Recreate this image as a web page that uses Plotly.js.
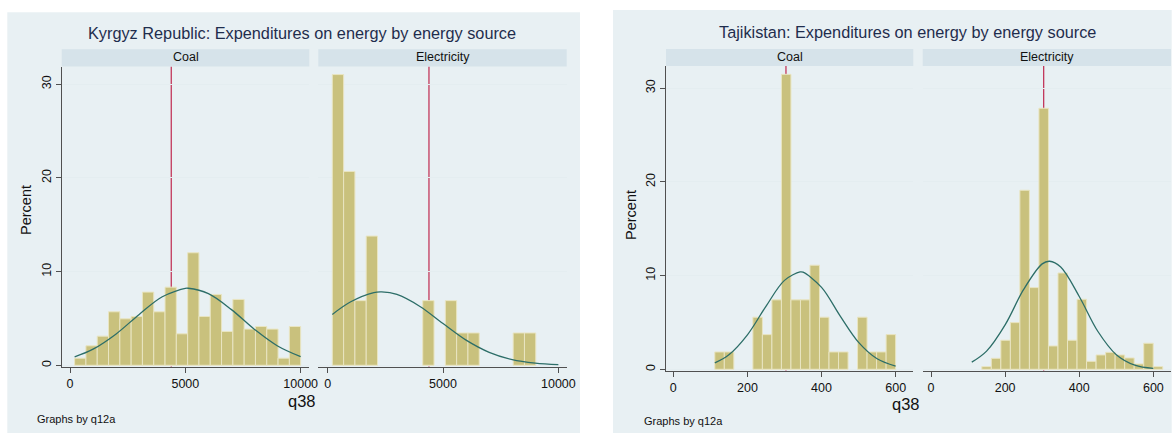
<!DOCTYPE html>
<html>
<head>
<meta charset="utf-8">
<script src="https://cdn.plot.ly/plotly-3.0.1.min.js"></script>
<style>html,body{margin:0;padding:0;background:#fff;}#chart{width:1176px;height:433px;}</style>
</head>
<body>
<div id="chart"></div>
<script>
// ---------- data ----------
const panelTitles = ["Kyrgyz Republic: Expenditures on energy by energy source", "Tajikistan: Expenditures on energy by energy source"];
const facetLabels = ["Coal", "Electricity"];
const xTitle = "q38";
const yTitle = "Percent";
const note = "Graphs by q12a";

// Kyrgyz Republic, coal (bin width 490, from 200)
const kgBinWidth = 490;
const kgCoalMid = [445, 935, 1425, 1915, 2405, 2895, 3385, 3875, 4365, 4855, 5345, 5835, 6325, 6815, 7305, 7795, 8285, 8775, 9265, 9755];
const kgCoalPct = [0.76, 2.08, 3.11, 5.71, 4.96, 5.21, 7.81, 5.71, 8.34, 3.36, 12.01, 5.21, 7.56, 3.61, 7.03, 3.86, 4.14, 3.86, 0.76, 4.14];
const kgCoalCurveX = [200, 1000, 2000, 3000, 4000, 5000, 5120, 6000, 7000, 8000, 9000, 10000];
const kgCoalCurveY = [0.90, 1.72, 3.35, 5.43, 7.32, 8.21, 8.22, 7.65, 5.94, 3.83, 2.06, 0.92];

// Kyrgyz Republic, electricity
const kgElecMid = [445, 935, 1425, 1915, 4365, 5345, 5835, 6325, 8285, 8775];
const kgElecPct = [31.03, 20.69, 6.90, 13.79, 6.90, 6.90, 3.45, 3.45, 3.45, 3.45];
const kgElecCurveX = [200, 1000, 2000, 2340, 3000, 4000, 5000, 6000, 7000, 8000, 9000, 10000];
const kgElecCurveY = [5.43, 6.78, 7.76, 7.83, 7.56, 6.28, 4.45, 2.68, 1.38, 0.60, 0.23, 0.07];
const kgLine = 4390;

// Tajikistan, coal (bin width 25.68, from 112)
const tjCoalWidth = 25.68;
const tjCoalMid = [124.8, 150.5, 227.6, 253.2, 278.9, 304.6, 330.3, 356.0, 381.6, 407.3, 433.0, 458.7, 510.0, 535.7, 561.4, 587.1];
const tjCoalPct = [1.85, 1.85, 5.56, 3.70, 7.41, 31.48, 7.41, 7.41, 11.11, 5.56, 1.85, 1.85, 5.56, 1.85, 1.85, 3.70];
const tjCoalCurveX = [112, 150, 200, 250, 300, 342, 350, 400, 450, 500, 550, 600];
const tjCoalCurveY = [0.68, 1.55, 3.68, 6.72, 9.49, 10.39, 10.36, 8.74, 5.70, 2.87, 1.12, 0.34];

// Tajikistan, electricity (bin width 25.7, from 137)
const tjElecWidth = 25.7;
const tjElecMid = [149.9, 175.6, 201.3, 227.0, 252.7, 278.4, 304.1, 329.8, 355.5, 381.2, 406.9, 432.6, 458.3, 484.0, 509.7, 535.4, 561.1, 586.8, 612.5];
const tjElecPct = [0.28, 1.17, 3.10, 4.98, 19.11, 8.72, 27.86, 2.49, 10.28, 3.10, 7.47, 0.85, 1.53, 1.81, 1.53, 1.21, 0.57, 2.78, 0.28];
const tjElecCurveX = [110, 150, 200, 250, 300, 320, 350, 400, 450, 500, 550, 600];
const tjElecCurveY = [0.76, 1.94, 4.74, 8.52, 11.25, 11.53, 10.91, 7.77, 4.06, 1.56, 0.44, 0.09];
const tjLine = 304;

const kgTicks = [0, 5000, 10000];
const tjTicks = [0, 200, 400, 600];
const yTicks = [0, 10, 20, 30];

// ---------- styles ----------
const W = 1176, H = 433;
const FONT = "Liberation Sans, Arial, sans-serif";
const barFill = "#c9c17d";
const barEdge = "#e9e5c2";
const curveCol = "#2d6e68";
const lineCol = "#c2385c";
const panelBg = "#e8f0f3";
const stripBg = "#d6e3ea";
const gridCol = "#e4edf0";
const axisCol = "#505050";

function px(x){ return x / W; }
function py(y){ return 1 - y / H; }

function bars(x, y, w, xa, ya){
  return {type:"bar", x:x, y:y, width:w, xaxis:xa, yaxis:ya,
    marker:{color:barFill, line:{color:barEdge, width:1}}, hoverinfo:"x+y", showlegend:false};
}
function curve(x, y, xa, ya){
  return {type:"scatter", mode:"lines", x:x, y:y, xaxis:xa, yaxis:ya,
    line:{color:curveCol, width:1.3, shape:"spline", smoothing:1}, showlegend:false, hoverinfo:"skip"};
}

const data = [
  bars(kgCoalMid, kgCoalPct, kgBinWidth, "x", "y"),
  curve(kgCoalCurveX, kgCoalCurveY, "x", "y"),
  bars(kgElecMid, kgElecPct, kgBinWidth, "x2", "y2"),
  curve(kgElecCurveX, kgElecCurveY, "x2", "y2"),
  bars(tjCoalMid, tjCoalPct, tjCoalWidth, "x3", "y3"),
  curve(tjCoalCurveX, tjCoalCurveY, "x3", "y3"),
  bars(tjElecMid, tjElecPct, tjElecWidth, "x4", "y4"),
  curve(tjElecCurveX, tjElecCurveY, "x4", "y4")
];

function xAxis(dom, rng, ticks, anchor){
  return {domain:dom, range:rng, anchor:anchor, tickvals:ticks, ticktext:ticks.map(String),
    showgrid:false, zeroline:false, showline:true, linecolor:axisCol, linewidth:1,
    ticks:"outside", ticklen:5, tickcolor:axisCol, tickwidth:1,
    tickfont:{family:FONT, size:12.5, color:"#111"}, fixedrange:true};
}
function yAxis(dom, rng, anchor, labelled){
  return {domain:dom, range:rng, anchor:anchor, tickvals:yTicks, ticktext:yTicks.map(String),
    showgrid:true, gridcolor:gridCol, gridwidth:1, zeroline:false,
    showline:labelled, linecolor:axisCol, linewidth:1,
    ticks: labelled ? "outside" : "", ticklen:5, tickcolor:axisCol, tickwidth:1,
    showticklabels:labelled, tickangle:-90,
    tickfont:{family:FONT, size:12.5, color:"#111"}, fixedrange:true};
}

const yDomL = [py(366.5), py(66.7)];
const yDomR = [py(370.5), py(66)];
const yRngL = [-0.13, 31.87];
const yRngR = [-0.13, 32.37];

function refLine(xa, ya, v){
  return {type:"line", xref:xa, yref:ya + " domain", x0:v, x1:v, y0:0, y1:1, line:{color:lineCol, width:1.3}, layer:"below"};
}

const layout = {
  width:W, height:H, margin:{l:0, r:0, t:0, b:0},
  paper_bgcolor:"#ffffff", plot_bgcolor:"#ffffff",
  showlegend:false, bargap:0,
  xaxis:  xAxis([px(61.7), px(309.3)], [-360, 10374], kgTicks, "y"),
  xaxis2: xAxis([px(318.3), px(566.7)], [-407, 10361], kgTicks, "y2"),
  xaxis3: xAxis([px(666), px(913.3)], [-19.7, 647.6], tjTicks, "y3"),
  xaxis4: xAxis([px(922.7), px(1171)], [-22.4, 647.6], tjTicks, "y4"),
  yaxis:  yAxis(yDomL, yRngL, "x", true),
  yaxis2: yAxis(yDomL, yRngL, "x2", false),
  yaxis3: yAxis(yDomR, yRngR, "x3", true),
  yaxis4: yAxis(yDomR, yRngR, "x4", false),
  shapes:[
    {type:"rect", xref:"paper", yref:"paper", x0:px(7.3), x1:px(580), y0:0, y1:py(12.3), fillcolor:panelBg, line:{width:0}, layer:"below"},
    {type:"rect", xref:"paper", yref:"paper", x0:px(613), x1:px(1171.7), y0:0, y1:py(10), fillcolor:panelBg, line:{width:0}, layer:"below"},
    {type:"rect", xref:"paper", yref:"paper", x0:px(61.7), x1:px(309.3), y0:py(66.5), y1:py(49.3), fillcolor:stripBg, line:{width:0}, layer:"below"},
    {type:"rect", xref:"paper", yref:"paper", x0:px(318.3), x1:px(566.7), y0:py(66.5), y1:py(49.3), fillcolor:stripBg, line:{width:0}, layer:"below"},
    {type:"rect", xref:"paper", yref:"paper", x0:px(666), x1:px(913.3), y0:py(66), y1:py(49), fillcolor:stripBg, line:{width:0}, layer:"below"},
    {type:"rect", xref:"paper", yref:"paper", x0:px(922.7), x1:px(1171), y0:py(66), y1:py(49), fillcolor:stripBg, line:{width:0}, layer:"below"},
    refLine("x", "y", kgLine),
    refLine("x2", "y2", kgLine),
    refLine("x3", "y3", tjLine),
    refLine("x4", "y4", tjLine)
  ],
  annotations:[
    {text:panelTitles[0], xref:"paper", yref:"paper", x:px(302), y:py(33), showarrow:false, xanchor:"center", yanchor:"middle", font:{family:FONT, size:16.3, color:"#1f2d4d"}},
    {text:panelTitles[1], xref:"paper", yref:"paper", x:px(907), y:py(31.5), showarrow:false, xanchor:"center", yanchor:"middle", font:{family:FONT, size:16.3, color:"#1f2d4d"}},
    {text:facetLabels[0], xref:"paper", yref:"paper", x:px(185.5), y:py(57.5), showarrow:false, xanchor:"center", yanchor:"middle", font:{family:FONT, size:12.5, color:"#111"}},
    {text:facetLabels[1], xref:"paper", yref:"paper", x:px(442.5), y:py(57.5), showarrow:false, xanchor:"center", yanchor:"middle", font:{family:FONT, size:12.5, color:"#111"}},
    {text:facetLabels[0], xref:"paper", yref:"paper", x:px(789.6), y:py(57.3), showarrow:false, xanchor:"center", yanchor:"middle", font:{family:FONT, size:12.5, color:"#111"}},
    {text:facetLabels[1], xref:"paper", yref:"paper", x:px(1046.8), y:py(57.3), showarrow:false, xanchor:"center", yanchor:"middle", font:{family:FONT, size:12.5, color:"#111"}},
    {text:xTitle, xref:"paper", yref:"paper", x:px(302), y:py(401), showarrow:false, xanchor:"center", yanchor:"middle", font:{family:FONT, size:16.5, color:"#111"}},
    {text:xTitle, xref:"paper", yref:"paper", x:px(906), y:py(404), showarrow:false, xanchor:"center", yanchor:"middle", font:{family:FONT, size:16.5, color:"#111"}},
    {text:yTitle, xref:"paper", yref:"paper", x:px(26), y:py(210), showarrow:false, xanchor:"center", yanchor:"middle", textangle:-90, font:{family:FONT, size:14.5, color:"#111"}},
    {text:yTitle, xref:"paper", yref:"paper", x:px(631), y:py(215), showarrow:false, xanchor:"center", yanchor:"middle", textangle:-90, font:{family:FONT, size:14.5, color:"#111"}},
    {text:note, xref:"paper", yref:"paper", x:px(35), y:py(419), showarrow:false, xanchor:"left", yanchor:"middle", font:{family:FONT, size:11, color:"#111"}},
    {text:note, xref:"paper", yref:"paper", x:px(642), y:py(421), showarrow:false, xanchor:"left", yanchor:"middle", font:{family:FONT, size:11, color:"#111"}}
  ]
};

Plotly.newPlot("chart", data, layout, {staticPlot:true, displayModeBar:false});
</script>
</body>
</html>
